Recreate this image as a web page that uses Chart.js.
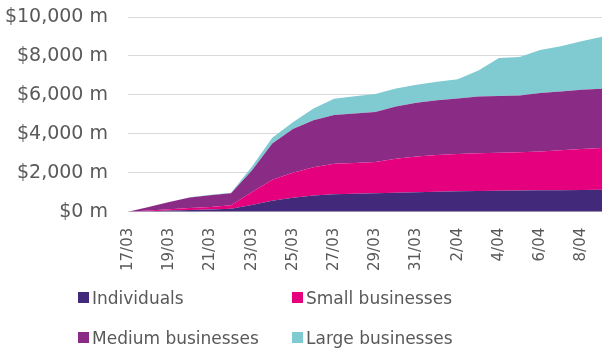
<!DOCTYPE html>
<html>
<head>
<meta charset="utf-8">
<script src="https://cdn.jsdelivr.net/npm/chart.js@4"></script>
<style>
    body { margin: 0; background: #fff; overflow: hidden; }
    #contenedor { position: relative; width: 602px; height: 355px; }
    .leyenda-item {
        position: absolute;
        font-family: "DejaVu Sans", sans-serif;
        font-size: 17px;
        color: #595959;
        line-height: 20px;
        white-space: nowrap;
    }
    .leyenda-item span {
        display: inline-block;
        width: 11px;
        height: 11px;
        margin-right: 3px;
        vertical-align: 1px;
    }
</style>
</head>
<body>
<div id="contenedor">
    <canvas id="graficoArea" width="602" height="355"></canvas>
    <div id="leyenda"></div>
</div>
<script>
const fechas = [
    "17/03", "18/03", "19/03", "20/03", "21/03", "22/03", "23/03", "24/03",
    "25/03", "26/03", "27/03", "28/03", "29/03", "30/03", "31/03", "1/04",
    "2/04", "3/04", "4/04", "5/04", "6/04", "7/04", "8/04", "9/04",
];

// importes acumulados en millones de dólares
const individuos = [0, 30, 60, 90, 120, 150, 350, 570, 720, 840, 900, 930, 950, 980, 1000, 1030, 1050, 1070, 1080, 1090, 1100, 1110, 1120, 1130];
const pequenas = [0, 40, 70, 110, 130, 180, 650, 1080, 1280, 1440, 1560, 1570, 1600, 1740, 1840, 1890, 1920, 1930, 1950, 1970, 2000, 2050, 2100, 2150];
const medianas = [0, 180, 370, 530, 600, 620, 1100, 1850, 2250, 2420, 2510, 2550, 2570, 2680, 2760, 2800, 2850, 2920, 2920, 2910, 3000, 3020, 3050, 3040];
const grandes = [0, 0, 0, 20, 20, 30, 200, 300, 350, 600, 830, 880, 930, 930, 920, 960, 980, 1330, 1950, 1980, 2200, 2320, 2480, 2660];

const ticksEjeY = [0, 2000, 4000, 6000, 8000, 10000];

const series = [
    { nombre: "Individuals", datos: individuos, color: "#42297a" },
    { nombre: "Small businesses", datos: pequenas, color: "#e5007e" },
    { nombre: "Medium businesses", datos: medianas, color: "#8a2b86" },
    { nombre: "Large businesses", datos: grandes, color: "#80cbd1" },
];

const gris = "#595959";
const fuente = "'DejaVu Sans', sans-serif";

// quita el margen que Chart.js reserva para las etiquetas extremas
function sinRelleno(eje) {
    eje.paddingLeft = 0;
    eje.paddingRight = 0;
    eje.paddingTop = 0;
    eje.paddingBottom = 0;
}

const ctx = document.getElementById("graficoArea").getContext("2d");

new Chart(ctx, {
    type: "line",
    data: {
        labels: fechas,
        datasets: series.map((s, i) => ({
            label: s.nombre,
            data: s.datos,
            backgroundColor: s.color,
            borderWidth: 0,
            pointRadius: 0,
            fill: i === 0 ? "origin" : "-1",
        })),
    },
    options: {
        responsive: false,
        animation: false,
        layout: {
            padding: { left: 5, right: 0, top: 17, bottom: 68 },
        },
        plugins: {
            legend: { display: false },
            tooltip: { enabled: false },
        },
        scales: {
            x: {
                afterFit: sinRelleno,
                grid: { display: false, drawTicks: false },
                border: { display: false },
                ticks: {
                    autoSkip: false,
                    maxRotation: 90,
                    minRotation: 90,
                    padding: 16,
                    color: gris,
                    font: { family: fuente, size: 15 },
                    callback: (valor, indice) =>
                        indice % 2 === 0 ? fechas[indice] : "",
                },
            },
            y: {
                stacked: true,
                min: 0,
                max: 10000,
                afterFit: (eje) => {
                    sinRelleno(eje);
                    eje.width = 123;
                },
                afterBuildTicks: (eje) => {
                    eje.ticks = ticksEjeY.map((v) => ({ value: v }));
                },
                grid: { color: "#d9d9d9", drawTicks: false },
                border: { display: false },
                ticks: {
                    padding: 20,
                    color: gris,
                    font: { family: fuente, size: 19 },
                    callback: (v) => "$" + v.toLocaleString("en-US") + " m",
                },
            },
        },
    },
});

// Leyenda en dos columnas
const posiciones = [
    { left: 78, top: 288 },
    { left: 292, top: 288 },
    { left: 78, top: 328 },
    { left: 292, top: 328 },
];
const leyenda = document.getElementById("leyenda");
series.forEach((s, i) => {
    const item = document.createElement("div");
    item.className = "leyenda-item";
    item.style.left = posiciones[i].left + "px";
    item.style.top = posiciones[i].top + "px";
    item.innerHTML = `<span style="background:${s.color}"></span>${s.nombre}`;
    leyenda.appendChild(item);
});
</script>
</body>
</html>
